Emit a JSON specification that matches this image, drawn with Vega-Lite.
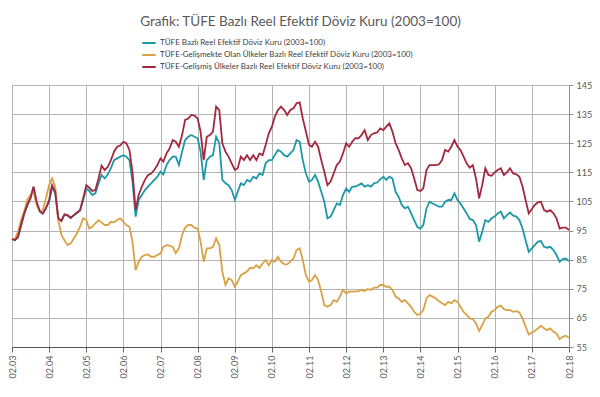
{
  "$schema": "https://vega.github.io/schema/vega-lite/v6.json",
  "width": 557,
  "height": 262,
  "autosize": {"type": "none"},
  "padding": {"left": 12, "top": 85, "right": 31, "bottom": 50},
  "background": "white",
  "title": {
    "text": "Grafik: TÜFE  Bazlı Reel Efektif Döviz Kuru (2003=100)",
    "font": "Lato",
    "fontSize": 13.5,
    "fontWeight": "normal",
    "color": "#595959",
    "anchor": "middle",
    "frame": "group",
    "dx": 10,
    "offset": 7
  },
  "config": {
    "view": {"stroke": "#8c8c8c", "strokeWidth": 1},
    "font": "Lato"
  },
  "data": {
    "values": [
      {"d":"2003-02","a":92.1,"b":92.1,"c":92.1},
      {"d":"2003-03","a":91.7,"b":92.0,"c":91.7},
      {"d":"2003-04","a":92.6,"b":94.6,"c":92.9},
      {"d":"2003-05","a":96.6,"b":98.6,"c":96.9},
      {"d":"2003-06","a":100.5,"b":101.5,"c":100.9},
      {"d":"2003-07","a":103.5,"b":105.5,"c":103.8},
      {"d":"2003-08","a":106.0,"b":107.2,"c":106.1},
      {"d":"2003-09","a":109.8,"b":108.3,"c":110.1},
      {"d":"2003-10","a":104.6,"b":103.8,"c":104.9},
      {"d":"2003-11","a":101.5,"b":101.5,"c":101.7},
      {"d":"2003-12","a":100.8,"b":102.0,"c":100.9},
      {"d":"2004-01","a":102.9,"b":106.1,"c":102.6},
      {"d":"2004-02","a":104.8,"b":110.6,"c":105.5},
      {"d":"2004-03","a":109.8,"b":112.9,"c":110.6},
      {"d":"2004-04","a":108.0,"b":110.1,"c":108.3},
      {"d":"2004-05","a":99.2,"b":98.6,"c":99.2},
      {"d":"2004-06","a":98.3,"b":93.5,"c":98.3},
      {"d":"2004-07","a":100.4,"b":91.7,"c":100.6},
      {"d":"2004-08","a":100.1,"b":90.0,"c":100.3},
      {"d":"2004-09","a":99.3,"b":90.6,"c":99.4},
      {"d":"2004-10","a":100.2,"b":92.3,"c":100.3},
      {"d":"2004-11","a":101.0,"b":94.0,"c":101.2},
      {"d":"2004-12","a":101.8,"b":96.3,"c":102.0},
      {"d":"2005-01","a":105.5,"b":99.2,"c":106.1},
      {"d":"2005-02","a":109.5,"b":98.6,"c":110.6},
      {"d":"2005-03","a":108.6,"b":95.7,"c":109.7},
      {"d":"2005-04","a":107.2,"b":96.3,"c":108.6},
      {"d":"2005-05","a":107.8,"b":97.5,"c":108.9},
      {"d":"2005-06","a":111.2,"b":98.6,"c":112.9},
      {"d":"2005-07","a":114.1,"b":97.8,"c":117.3},
      {"d":"2005-08","a":112.9,"b":96.9,"c":115.8},
      {"d":"2005-09","a":114.3,"b":96.9,"c":116.9},
      {"d":"2005-10","a":116.4,"b":98.0,"c":119.2},
      {"d":"2005-11","a":119.2,"b":97.8,"c":122.1},
      {"d":"2005-12","a":119.8,"b":98.6,"c":123.8},
      {"d":"2006-01","a":120.4,"b":99.2,"c":124.2},
      {"d":"2006-02","a":120.9,"b":98.0,"c":125.5},
      {"d":"2006-03","a":120.4,"b":96.9,"c":125.0},
      {"d":"2006-04","a":119.2,"b":96.3,"c":122.7},
      {"d":"2006-05","a":111.8,"b":91.2,"c":115.2},
      {"d":"2006-06","a":99.8,"b":81.4,"c":102.0},
      {"d":"2006-07","a":105.5,"b":84.3,"c":107.2},
      {"d":"2006-08","a":107.2,"b":86.0,"c":110.1},
      {"d":"2006-09","a":108.9,"b":86.6,"c":112.4},
      {"d":"2006-10","a":110.1,"b":86.8,"c":114.1},
      {"d":"2006-11","a":111.2,"b":86.0,"c":114.6},
      {"d":"2006-12","a":112.4,"b":86.0,"c":115.8},
      {"d":"2007-01","a":113.5,"b":86.6,"c":117.5},
      {"d":"2007-02","a":115.2,"b":87.2,"c":119.8},
      {"d":"2007-03","a":114.3,"b":89.4,"c":118.7},
      {"d":"2007-04","a":117.5,"b":90.0,"c":121.5},
      {"d":"2007-05","a":119.2,"b":89.8,"c":123.2},
      {"d":"2007-06","a":120.4,"b":89.4,"c":126.1},
      {"d":"2007-07","a":120.4,"b":87.2,"c":125.5},
      {"d":"2007-08","a":117.5,"b":88.9,"c":123.8},
      {"d":"2007-09","a":122.1,"b":93.5,"c":127.8},
      {"d":"2007-10","a":126.1,"b":96.0,"c":133.0},
      {"d":"2007-11","a":127.2,"b":96.9,"c":133.5},
      {"d":"2007-12","a":127.8,"b":96.9,"c":134.7},
      {"d":"2008-01","a":127.2,"b":96.0,"c":134.5},
      {"d":"2008-02","a":126.7,"b":95.7,"c":133.5},
      {"d":"2008-03","a":122.1,"b":91.2,"c":129.0},
      {"d":"2008-04","a":112.4,"b":84.3,"c":119.2},
      {"d":"2008-05","a":119.2,"b":88.9,"c":127.2},
      {"d":"2008-06","a":120.4,"b":88.9,"c":127.8},
      {"d":"2008-07","a":120.9,"b":89.4,"c":129.0},
      {"d":"2008-08","a":127.2,"b":92.3,"c":137.6},
      {"d":"2008-09","a":125.0,"b":90.0,"c":136.4},
      {"d":"2008-10","a":112.4,"b":80.9,"c":125.0},
      {"d":"2008-11","a":111.2,"b":76.3,"c":122.1},
      {"d":"2008-12","a":110.6,"b":78.6,"c":120.4},
      {"d":"2009-01","a":108.9,"b":78.0,"c":118.1},
      {"d":"2009-02","a":105.5,"b":75.7,"c":115.8},
      {"d":"2009-03","a":108.3,"b":77.4,"c":116.4},
      {"d":"2009-04","a":111.2,"b":79.7,"c":120.4},
      {"d":"2009-05","a":110.6,"b":80.3,"c":119.2},
      {"d":"2009-06","a":112.4,"b":80.9,"c":120.9},
      {"d":"2009-07","a":111.8,"b":82.2,"c":119.2},
      {"d":"2009-08","a":113.5,"b":82.0,"c":120.9},
      {"d":"2009-09","a":112.9,"b":83.1,"c":119.2},
      {"d":"2009-10","a":114.6,"b":82.2,"c":121.5},
      {"d":"2009-11","a":114.1,"b":83.7,"c":120.9},
      {"d":"2009-12","a":118.1,"b":84.9,"c":124.4},
      {"d":"2010-01","a":119.2,"b":83.1,"c":128.4},
      {"d":"2010-02","a":119.2,"b":84.9,"c":130.7},
      {"d":"2010-03","a":120.9,"b":84.3,"c":134.1},
      {"d":"2010-04","a":122.7,"b":86.0,"c":136.4},
      {"d":"2010-05","a":122.1,"b":84.3,"c":137.6},
      {"d":"2010-06","a":120.9,"b":83.5,"c":136.4},
      {"d":"2010-07","a":120.4,"b":83.4,"c":134.7},
      {"d":"2010-08","a":121.5,"b":84.3,"c":136.4},
      {"d":"2010-09","a":122.7,"b":85.4,"c":137.0},
      {"d":"2010-10","a":126.1,"b":88.3,"c":138.7},
      {"d":"2010-11","a":125.5,"b":88.9,"c":139.0},
      {"d":"2010-12","a":119.2,"b":84.9,"c":133.5},
      {"d":"2011-01","a":114.6,"b":79.7,"c":129.0},
      {"d":"2011-02","a":111.8,"b":77.4,"c":124.4},
      {"d":"2011-03","a":112.4,"b":78.0,"c":123.8},
      {"d":"2011-04","a":114.1,"b":79.7,"c":125.5},
      {"d":"2011-05","a":111.8,"b":78.0,"c":123.8},
      {"d":"2011-06","a":108.3,"b":74.0,"c":119.2},
      {"d":"2011-07","a":104.9,"b":69.4,"c":115.2},
      {"d":"2011-08","a":99.2,"b":68.8,"c":110.6},
      {"d":"2011-09","a":99.8,"b":69.4,"c":111.8},
      {"d":"2011-10","a":102.0,"b":71.1,"c":114.6},
      {"d":"2011-11","a":104.3,"b":70.5,"c":117.5},
      {"d":"2011-12","a":103.8,"b":72.3,"c":118.7},
      {"d":"2012-01","a":107.2,"b":74.6,"c":121.5},
      {"d":"2012-02","a":109.5,"b":73.4,"c":125.0},
      {"d":"2012-03","a":108.3,"b":74.0,"c":123.8},
      {"d":"2012-04","a":110.1,"b":74.0,"c":125.5},
      {"d":"2012-05","a":110.1,"b":74.0,"c":126.7},
      {"d":"2012-06","a":110.6,"b":74.2,"c":126.7},
      {"d":"2012-07","a":111.2,"b":74.6,"c":127.8},
      {"d":"2012-08","a":110.1,"b":74.2,"c":129.5},
      {"d":"2012-09","a":110.6,"b":74.9,"c":126.1},
      {"d":"2012-10","a":110.1,"b":74.6,"c":127.8},
      {"d":"2012-11","a":111.2,"b":75.4,"c":128.4},
      {"d":"2012-12","a":111.5,"b":75.4,"c":128.7},
      {"d":"2013-01","a":112.6,"b":76.3,"c":130.1},
      {"d":"2013-02","a":113.5,"b":76.3,"c":129.5},
      {"d":"2013-03","a":112.4,"b":75.7,"c":130.7},
      {"d":"2013-04","a":113.5,"b":75.7,"c":131.8},
      {"d":"2013-05","a":112.9,"b":74.6,"c":129.0},
      {"d":"2013-06","a":108.3,"b":72.3,"c":125.0},
      {"d":"2013-07","a":106.6,"b":71.7,"c":122.7},
      {"d":"2013-08","a":103.8,"b":70.5,"c":119.8},
      {"d":"2013-09","a":102.6,"b":71.1,"c":117.5},
      {"d":"2013-10","a":103.2,"b":70.0,"c":118.1},
      {"d":"2013-11","a":100.9,"b":68.8,"c":116.4},
      {"d":"2013-12","a":98.6,"b":67.1,"c":112.9},
      {"d":"2014-01","a":96.3,"b":66.0,"c":108.9},
      {"d":"2014-02","a":95.7,"b":66.5,"c":108.6},
      {"d":"2014-03","a":96.9,"b":67.7,"c":109.5},
      {"d":"2014-04","a":102.6,"b":71.7,"c":115.8},
      {"d":"2014-05","a":104.9,"b":72.8,"c":117.5},
      {"d":"2014-06","a":104.3,"b":72.3,"c":117.5},
      {"d":"2014-07","a":103.8,"b":71.7,"c":117.5},
      {"d":"2014-08","a":103.2,"b":70.8,"c":117.7},
      {"d":"2014-09","a":103.2,"b":70.0,"c":119.2},
      {"d":"2014-10","a":104.9,"b":69.4,"c":122.7},
      {"d":"2014-11","a":105.5,"b":70.5,"c":122.1},
      {"d":"2014-12","a":105.5,"b":70.0,"c":123.8},
      {"d":"2015-01","a":107.8,"b":71.1,"c":126.1},
      {"d":"2015-02","a":105.5,"b":70.5,"c":123.8},
      {"d":"2015-03","a":104.3,"b":68.8,"c":122.7},
      {"d":"2015-04","a":102.6,"b":67.1,"c":120.4},
      {"d":"2015-05","a":100.9,"b":66.0,"c":118.1},
      {"d":"2015-06","a":99.0,"b":64.8,"c":116.6},
      {"d":"2015-07","a":98.6,"b":64.6,"c":117.5},
      {"d":"2015-08","a":96.9,"b":63.1,"c":112.9},
      {"d":"2015-09","a":91.2,"b":60.5,"c":106.1},
      {"d":"2015-10","a":94.6,"b":62.5,"c":110.6},
      {"d":"2015-11","a":98.6,"b":64.8,"c":116.4},
      {"d":"2015-12","a":98.0,"b":65.4,"c":114.1},
      {"d":"2016-01","a":99.2,"b":67.1,"c":113.8},
      {"d":"2016-02","a":99.8,"b":67.7,"c":115.0},
      {"d":"2016-03","a":100.9,"b":68.8,"c":115.8},
      {"d":"2016-04","a":101.5,"b":69.2,"c":116.4},
      {"d":"2016-05","a":99.2,"b":68.0,"c":114.1},
      {"d":"2016-06","a":100.3,"b":67.7,"c":115.0},
      {"d":"2016-07","a":101.2,"b":67.7,"c":116.4},
      {"d":"2016-08","a":100.1,"b":67.1,"c":114.6},
      {"d":"2016-09","a":99.8,"b":67.3,"c":114.3},
      {"d":"2016-10","a":98.6,"b":66.9,"c":113.5},
      {"d":"2016-11","a":95.7,"b":64.8,"c":110.1},
      {"d":"2016-12","a":91.7,"b":62.0,"c":105.5},
      {"d":"2017-01","a":87.7,"b":59.3,"c":100.9},
      {"d":"2017-02","a":88.9,"b":60.0,"c":102.4},
      {"d":"2017-03","a":90.0,"b":60.5,"c":103.8},
      {"d":"2017-04","a":91.2,"b":61.4,"c":104.7},
      {"d":"2017-05","a":91.4,"b":62.3,"c":104.9},
      {"d":"2017-06","a":89.4,"b":61.4,"c":102.0},
      {"d":"2017-07","a":89.1,"b":60.8,"c":101.5},
      {"d":"2017-08","a":89.4,"b":61.4,"c":102.0},
      {"d":"2017-09","a":88.3,"b":60.2,"c":100.9},
      {"d":"2017-10","a":86.6,"b":59.7,"c":99.2},
      {"d":"2017-11","a":84.3,"b":57.7,"c":95.7},
      {"d":"2017-12","a":85.2,"b":58.5,"c":96.0},
      {"d":"2018-01","a":85.4,"b":58.9,"c":96.0},
      {"d":"2018-02","a":84.5,"b":58.2,"c":95.2}
    ]
  },
  "transform": [{"fold": ["a", "b", "c"], "as": ["s", "v"]}],
  "mark": {"type": "line", "strokeWidth": 1.8, "interpolate": "linear"},
  "encoding": {
    "x": {
      "field": "d",
      "type": "temporal",
      "scale": {
        "type": "utc",
        "domain": [
          {"year": 2003, "month": 2, "date": 1, "utc": true},
          {"year": 2018, "month": 2, "date": 1, "utc": true}
        ]
      },
      "axis": {
        "title": null,
        "values": [
          {"year": 2003, "month": 2, "date": 1, "utc": true},
          {"year": 2004, "month": 2, "date": 1, "utc": true},
          {"year": 2005, "month": 2, "date": 1, "utc": true},
          {"year": 2006, "month": 2, "date": 1, "utc": true},
          {"year": 2007, "month": 2, "date": 1, "utc": true},
          {"year": 2008, "month": 2, "date": 1, "utc": true},
          {"year": 2009, "month": 2, "date": 1, "utc": true},
          {"year": 2010, "month": 2, "date": 1, "utc": true},
          {"year": 2011, "month": 2, "date": 1, "utc": true},
          {"year": 2012, "month": 2, "date": 1, "utc": true},
          {"year": 2013, "month": 2, "date": 1, "utc": true},
          {"year": 2014, "month": 2, "date": 1, "utc": true},
          {"year": 2015, "month": 2, "date": 1, "utc": true},
          {"year": 2016, "month": 2, "date": 1, "utc": true},
          {"year": 2017, "month": 2, "date": 1, "utc": true},
          {"year": 2018, "month": 2, "date": 1, "utc": true}
        ],
        "labelExpr": "utcFormat(datum.value, '%m.%y')",
        "labelAngle": -90,
        "labelAlign": "right",
        "labelBaseline": "middle",
        "labelFontSize": 9,
        "labelColor": "#595959",
        "labelPadding": 3,
        "labelOverlap": false,
        "labelFlush": false,
        "tickSize": 5,
        "tickColor": "#666666",
        "domainColor": "#555555",
        "grid": true,
        "gridColor": "#b4b4b4",
        "gridWidth": 1
      }
    },
    "y": {
      "field": "v",
      "type": "quantitative",
      "scale": {"domain": [55, 145], "nice": false, "zero": false},
      "axis": {
        "orient": "right",
        "title": null,
        "values": [55, 65, 75, 85, 95, 105, 115, 125, 135, 145],
        "labelFontSize": 9,
        "labelColor": "#595959",
        "labelPadding": 3,
        "tickSize": 4,
        "tickColor": "#8c8c8c",
        "domainColor": "#8c8c8c",
        "grid": true,
        "gridColor": "#b4b4b4",
        "gridWidth": 1
      }
    },
    "color": {
      "field": "s",
      "type": "nominal",
      "scale": {"domain": ["a", "b", "c"], "range": ["#1c98a8", "#d8a244", "#a3283f"]},
      "legend": {
        "orient": "none",
        "legendX": 129,
        "legendY": -50,
        "direction": "vertical",
        "title": null,
        "symbolType": "stroke",
        "symbolStrokeWidth": 2,
        "symbolSize": 180,
        "labelFontSize": 8,
        "labelColor": "#404040",
        "labelLimit": 0,
        "rowPadding": -1,
        "labelOffset": 3,
        "labelExpr": "datum.value === 'a' ? 'TÜFE  Bazlı Reel Efektif Döviz Kuru (2003=100)' : datum.value === 'b' ? 'TÜFE-Gelişmekte Olan Ülkeler Bazlı Reel Efektif Döviz Kuru (2003=100)' : 'TÜFE-Gelişmiş Ülkeler Bazlı Reel Efektif Döviz Kuru (2003=100)'"
      }
    }
  }
}
